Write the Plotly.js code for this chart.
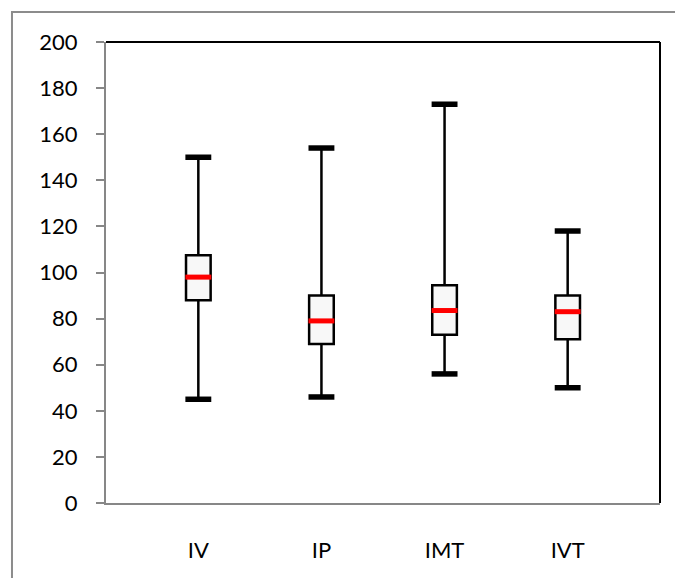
<!DOCTYPE html>
<html>
<head>
<meta charset="utf-8">
<script src="https://cdn.plot.ly/plotly-3.0.1.min.js"></script>
<style>html,body{margin:0;padding:0;background:#fff;}#chart{width:675px;height:578px;}</style>
</head>
<body>
<div id="chart"></div>
<script>
var categories = ['IV', 'IP', 'IMT', 'IVT'];
var minVals = [45, 46, 56, 50];
var q1Vals = [88, 69, 73, 71];
var medianVals = [98, 79, 83.5, 83];
var q3Vals = [107.5, 90, 94.5, 90];
var maxVals = [150, 154, 173, 118];
var yTicks = [0, 20, 40, 60, 80, 100, 120, 140, 160, 180, 200];

var boxTrace = {
  type: 'box',
  x: categories,
  q1: q1Vals,
  median: medianVals,
  q3: q3Vals,
  lowerfence: minVals,
  upperfence: maxVals,
  width: 0.2,
  whiskerwidth: 0,
  boxpoints: false,
  line: {color: '#000000', width: 2.5},
  fillcolor: '#f8f8f8',
  hoverinfo: 'skip',
  showlegend: false
};
var capTrace = {
  type: 'scatter',
  mode: 'markers',
  x: categories.concat(categories),
  y: minVals.concat(maxVals),
  marker: {symbol: 'line-ew', size: 18.5, color: '#000000', line: {color: '#000000', width: 5.5}},
  hoverinfo: 'skip',
  showlegend: false
};
var medTrace = {
  type: 'scatter',
  mode: 'markers',
  x: categories,
  y: medianVals,
  marker: {symbol: 'line-ew', size: 18.5, color: '#ff0000', line: {color: '#ff0000', width: 5}},
  hoverinfo: 'skip',
  showlegend: false
};

var gray = '#878787';
var layout = {
  width: 675,
  height: 578,
  margin: {l: 106, r: 15, t: 42, b: 75},
  paper_bgcolor: '#ffffff',
  plot_bgcolor: '#ffffff',
  font: {family: 'Lato, Carlito, sans-serif', size: 22, color: '#000000'},
  showlegend: false,
  xaxis: {
    type: 'category',
    range: [-0.75, 3.75],
    showline: true,
    linecolor: gray,
    linewidth: 2,
    ticks: '',
    showgrid: false,
    zeroline: false,
    ticklabelstandoff: 27,
    tickfont: {size: 22, color: '#000000'}
  },
  yaxis: {
    range: [0, 200],
    tickvals: yTicks,
    ticktext: yTicks.map(String),
    showline: true,
    linecolor: gray,
    linewidth: 2,
    ticks: 'outside',
    ticklen: 8,
    tickwidth: 2,
    tickcolor: gray,
    showgrid: false,
    zeroline: false,
    ticklabelstandoff: 14,
    tickfont: {size: 22, color: '#000000'}
  },
  shapes: [
    {type: 'line', xref: 'paper', yref: 'paper', x0: 0, x1: 1, y0: 1, y1: 1, line: {color: '#000000', width: 2}},
    {type: 'line', xref: 'paper', yref: 'paper', x0: 1, x1: 1, y0: 0, y1: 1, line: {color: '#000000', width: 2}},
    {type: 'path', xref: 'paper', yref: 'paper', path: 'M -0.1697,-0.25 L -0.1697,1.0651 L 1.1,1.0651', line: {color: '#8c8c8c', width: 2}}
  ]
};

Plotly.newPlot('chart', [boxTrace, capTrace, medTrace], layout, {displayModeBar: false, staticPlot: true});
</script>
</body>
</html>
